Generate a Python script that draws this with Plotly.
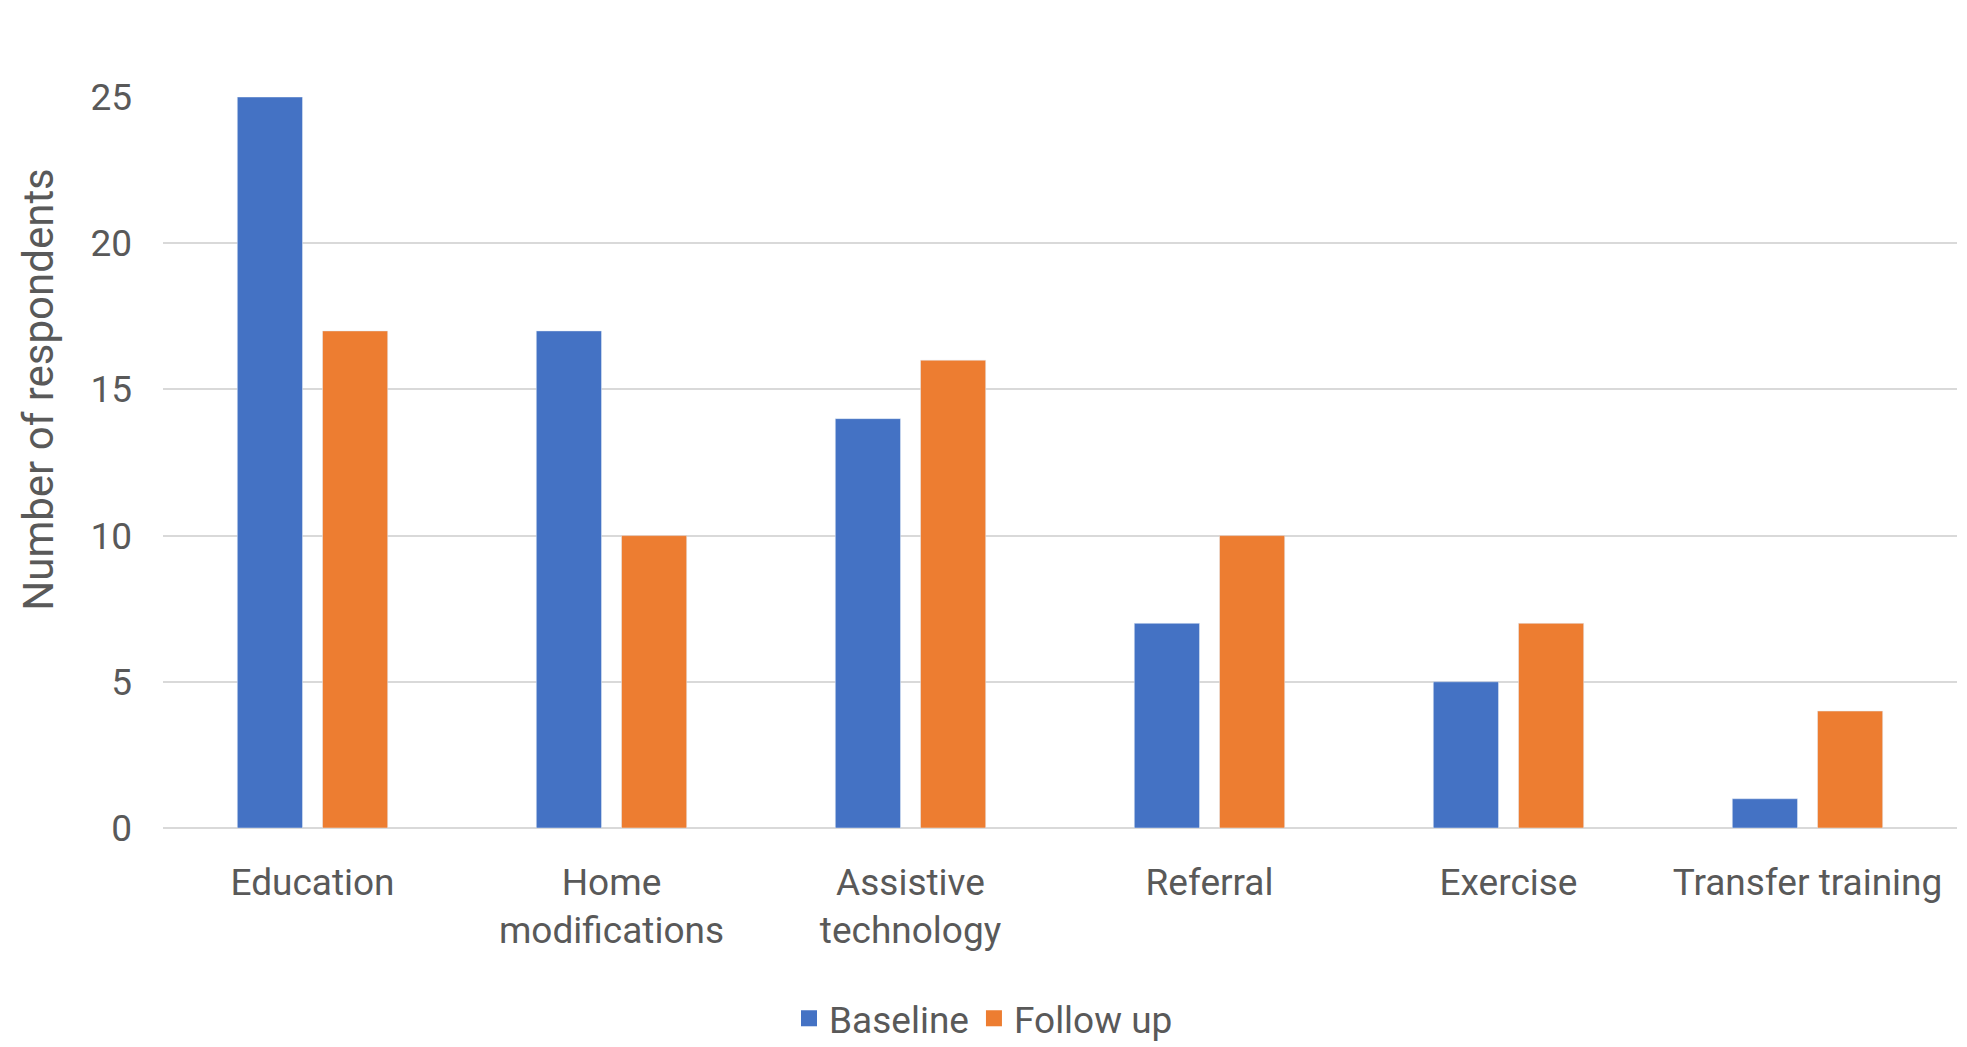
import plotly.graph_objects as go

categories = ["Education", "Home<br>modifications", "Assistive<br>technology", "Referral", "Exercise", "Transfer training"]
baseline = [25, 17, 14, 7, 5, 1]
follow_up = [17, 10, 16, 10, 7, 4]
y_ticks = [0, 5, 10, 15, 20, 25]
series_names = ["Baseline", "Follow up"]
series_colors = ["#4472C4", "#ED7D31"]

FONT = "Roboto"
TXT = "#595959"

fig = go.Figure()
fig.add_trace(go.Bar(x=categories, y=baseline, name=series_names[0], marker_color=series_colors[0], showlegend=False))
fig.add_trace(go.Bar(x=categories, y=follow_up, name=series_names[1], marker_color=series_colors[1], showlegend=False))
for nm, col in zip(series_names, series_colors):
    fig.add_trace(go.Scatter(x=[None], y=[None], mode="markers", name=nm,
                             marker=dict(symbol="square", size=22, color=col)))

fig.update_layout(
    width=1967, height=1047,
    margin=dict(l=163, r=10, t=97, b=219),
    plot_bgcolor="white", paper_bgcolor="white",
    barmode="group", bargap=0.43, bargroupgap=0.235,
    font=dict(family=FONT, color=TXT, size=36),
    showlegend=True,
    legend=dict(orientation="h", xref="container", yref="container", x=0.5, xanchor="center",
                y=0.027, yanchor="middle", font=dict(size=37, color=TXT), itemwidth=30,
                tracegroupgap=0),
    xaxis=dict(tickfont=dict(size=37, color=TXT), showgrid=False, showline=False, ticks="",
               ticklabelstandoff=29),
    yaxis=dict(range=[0, 25], tickvals=y_ticks, showgrid=True, gridcolor="#D9D9D9", gridwidth=2,
               zeroline=True, zerolinecolor="#D9D9D9", zerolinewidth=2,
               tickfont=dict(size=37, color=TXT), ticklabelstandoff=30),
    annotations=[dict(text="Number of respondents", xref="paper", yref="paper", x=-0.0695, y=0.6,
                      xanchor="center", yanchor="middle", textangle=-90, showarrow=False,
                      font=dict(size=42, color=TXT))],
)

fig.write_html("out.html")
